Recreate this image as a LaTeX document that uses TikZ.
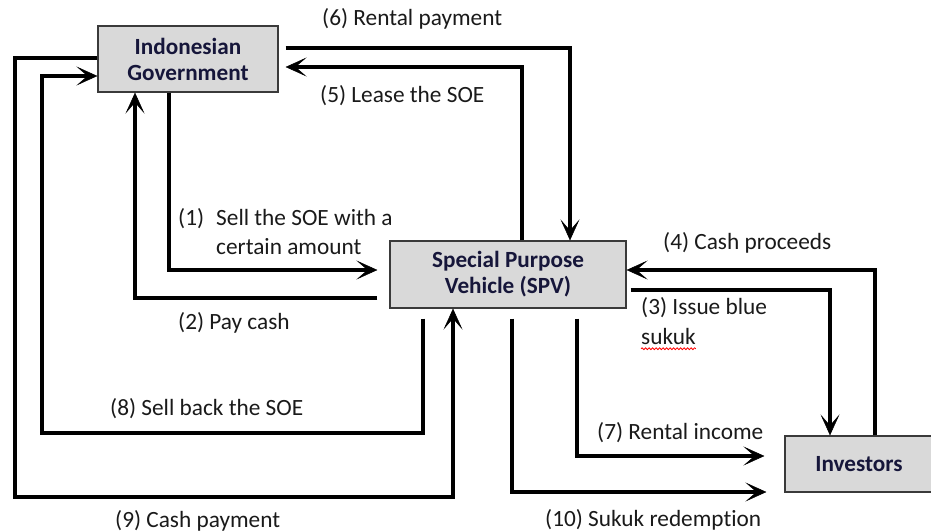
\documentclass[tikz,border=0pt]{standalone}
\usepackage{fontspec}
\setmainfont{Carlito}[Ligatures=NoCommon]
\usetikzlibrary{arrows.meta,calc,decorations.pathmorphing}
\definecolor{boxfill}{HTML}{D9D9D9}
\definecolor{boxline}{HTML}{3A3A3A}
\definecolor{boxtext}{HTML}{16163A}
\definecolor{lbltext}{HTML}{1A1A1A}
\begin{document}
\begin{tikzpicture}[x=1pt,y=-1pt,
  entity/.style={draw=boxline,line width=1.2pt,fill=boxfill,text=boxtext,
    font=\fontsize{23.2}{26}\selectfont\bfseries,align=center,inner sep=0pt},
  lbl/.style={anchor=west,inner sep=0pt,text=lbltext,text height=20pt,text depth=5pt,
    font=\fontsize{23.3}{26}\selectfont},
  arr/.style={line width=3.8pt,line join=miter,
    -{Stealth[length=21pt,width=19pt,inset=11pt,line width=0.5pt]}},
  spell/.style={draw=red,line width=0.8pt,decorate,
    decoration={snake,amplitude=0.9pt,segment length=3.5pt}}]
\useasboundingbox[fill=white] (0,0) rectangle (931,532);

% entities
\node[entity,minimum width=180pt,minimum height=66pt] (gov) at (188,59) {Indonesian\\Government};
\node[entity,minimum width=236pt,minimum height=67pt] (spv) at (508,274.5) {Special Purpose\\Vehicle (SPV)};
\node[entity,minimum width=148pt,minimum height=56pt] (inv) at (859,464) {Investors};

% (6) Rental payment
\draw[arr] ([shift={(7,23)}]gov.north east) -| ([xshift=62pt]spv.north);
% (5) Lease the SOE
\draw[arr] ([xshift=14pt]spv.north) |- ([shift={(7,8)}]gov.east);
% (1) Sell the SOE
\draw[arr] ([xshift=-19pt]gov.south) |- ([shift={(-12,-4.5)}]spv.west);
% (2) Pay cash
\draw[arr] ([shift={(-12,23.5)}]spv.west) -| ([xshift=-53pt]gov.south);
% (8) Sell back the SOE
\draw[arr] ([shift={(-85,10)}]spv.south) |- (42,433) |- ([shift={(0,17)}]gov.west);
% (9) Cash payment
\draw[arr] ([shift={(0,-1)}]gov.west) -- (15,58) |- (453,497) -- ([xshift=-55pt]spv.south);
% (4) Cash proceeds
\draw[arr] ([xshift=16pt]inv.north) |- ([shift={(0,-4.5)}]spv.east);
% (3) Issue blue sukuk
\draw[arr] ([shift={(4,15.5)}]spv.east) -| ([xshift=-29pt]inv.north);
% (7) Rental income
\draw[arr] ([shift={(69,10)}]spv.south) |- ([shift={(-20,-8)}]inv.west);
% (10) Sukuk redemption
\draw[arr] ([shift={(4,10)}]spv.south) |- ([shift={(-18,28)}]inv.west);

% labels
\node[lbl] (l6) at (322,18) {(6) Rental payment};
\node[lbl] (l5) at (320,95) {(5) Lease the SOE};
\node[lbl] (l1a) at (178,218) {(1)};
\node[lbl] (l1b) at (216,218) {Sell the SOE with a};
\node[lbl] (l1c) at (216,247) {certain amount};
\node[lbl] (l2) at (178,322) {(2) Pay cash};
\node[lbl] (l4) at (663,242) {(4) Cash proceeds};
\node[lbl] (l3a) at (641,307) {(3) Issue blue};
\node[lbl] (l3b) at (641,337) {sukuk};
\node[lbl] (l8) at (110,408) {(8) Sell back the SOE};
\node[lbl] (l9) at (115,520) {(9) Cash payment};
\node[lbl] (l7) at (597,432) {(7) Rental income};
\node[lbl] (l10) at (545,519) {(10) Sukuk redemption};
\draw[spell] ([shift={(0,-1)}]l3b.south west) -- ([shift={(0,-1)}]l3b.south east);
\end{tikzpicture}
\end{document}
